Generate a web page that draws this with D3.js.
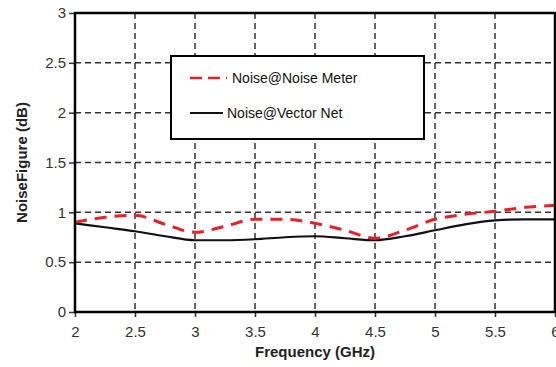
<!DOCTYPE html>
<html>
<head>
<meta charset="utf-8">
<script src="https://cdn.jsdelivr.net/npm/d3@7"></script>
<style>
  body { margin: 0; background: #fff; }
  text { font-family: "Liberation Sans", Arial, sans-serif; }
</style>
</head>
<body>
<div id="chart"></div>
<script>
var freqs = [2, 2.25, 2.5, 2.75, 3, 3.25, 3.5, 3.75, 4, 4.25, 4.5, 4.75, 5, 5.25, 5.5, 5.75, 6];
var noiseMeter = [0.90, 0.95, 0.97, 0.88, 0.80, 0.86, 0.93, 0.93, 0.89, 0.82, 0.74, 0.82, 0.93, 0.98, 1.01, 1.05, 1.07];
var vectorNet = [0.89, 0.85, 0.81, 0.76, 0.72, 0.72, 0.73, 0.75, 0.76, 0.74, 0.72, 0.76, 0.82, 0.88, 0.92, 0.93, 0.93];
var xTicks = [2, 2.5, 3, 3.5, 4, 4.5, 5, 5.5, 6];
var yTicks = [0, 0.5, 1, 1.5, 2, 2.5, 3];
var seriesNames = ["Noise@Noise Meter", "Noise@Vector Net"];

var totalWidth = 556, totalHeight = 367,
    margin = {top: 13, right: 1, bottom: 55, left: 75},
    width = totalWidth - margin.left - margin.right,
    height = totalHeight - margin.top - margin.bottom;

var x = d3.scaleLinear().domain([2, 6]).range([0, width]),
    y = d3.scaleLinear().domain([0, 3]).range([height, 0]);

var svg = d3.select("#chart").append("svg")
    .attr("width", totalWidth)
    .attr("height", totalHeight)
  .append("g")
    .attr("transform", "translate(" + margin.left + "," + margin.top + ")");

// grille pointillée
svg.append("g").selectAll("line")
  .data(xTicks.slice(1, -1))
  .join("line")
    .attr("x1", function(d) { return x(d); })
    .attr("x2", function(d) { return x(d); })
    .attr("y1", 0).attr("y2", height)
    .attr("stroke", "#333").attr("stroke-width", 1.5)
    .attr("stroke-dasharray", "6,4");
svg.append("g").selectAll("line")
  .data(yTicks.slice(1, -1))
  .join("line")
    .attr("x1", 0).attr("x2", width)
    .attr("y1", function(d) { return y(d); })
    .attr("y2", function(d) { return y(d); })
    .attr("stroke", "#333").attr("stroke-width", 1.5)
    .attr("stroke-dasharray", "6,4");

// courbes
var donnees = freqs.map(function(f, i) { return {f: f, a: noiseMeter[i], b: vectorNet[i]}; });
var ligneA = d3.line().curve(d3.curveMonotoneX)
    .x(function(d) { return x(d.f); })
    .y(function(d) { return y(d.a); });
var ligneB = d3.line().curve(d3.curveMonotoneX)
    .x(function(d) { return x(d.f); })
    .y(function(d) { return y(d.b); });
svg.append("path").datum(donnees)
    .attr("fill", "none").attr("stroke", "#111").attr("stroke-width", 2.2)
    .attr("d", ligneB);
svg.append("path").datum(donnees)
    .attr("fill", "none").attr("stroke", "#e8202a").attr("stroke-width", 3)
    .attr("stroke-dasharray", "12,8")
    .attr("d", ligneA);

// axes
var ax = svg.append("g")
    .attr("transform", "translate(0," + height + ")")
    .call(d3.axisBottom(x).tickValues(xTicks).tickSize(5).tickSizeOuter(0).tickFormat(d3.format("")));
var ay = svg.append("g")
    .call(d3.axisLeft(y).tickValues(yTicks).tickSize(6).tickSizeOuter(0).tickFormat(d3.format("")));
[ax, ay].forEach(function(a) {
  a.select(".domain").remove();
  a.selectAll("line").attr("stroke", "#333").attr("stroke-width", 1.5);
  a.selectAll("text").attr("fill", "#333").style("font-size", "15px")
    .style("font-family", "'Liberation Sans', Arial, sans-serif");
});
ax.selectAll("text").attr("dy", "0.71em").attr("y", 14);
ay.selectAll("text").attr("x", -9);

// cadre
svg.append("rect")
    .attr("x", 0).attr("y", 0).attr("width", width).attr("height", height)
    .attr("fill", "none").attr("stroke", "#000").attr("stroke-width", 2.5);

// titres
svg.append("text")
    .attr("x", width / 2).attr("y", height + 45)
    .style("text-anchor", "middle").style("font-weight", "bold").style("font-size", "15px")
    .attr("fill", "#222")
    .text("Frequency (GHz)");
svg.append("text")
    .attr("transform", "translate(-48," + (height / 2) + ") rotate(-90)")
    .style("text-anchor", "middle").style("font-weight", "bold").style("font-size", "15px")
    .attr("fill", "#222")
    .text("NoiseFigure (dB)");

// légende
var leg = svg.append("g").attr("transform", "translate(" + (171 - margin.left) + "," + (56 - margin.top) + ")");
leg.append("rect")
    .attr("width", 253).attr("height", 83)
    .attr("fill", "#fff").attr("stroke", "#000").attr("stroke-width", 2);
leg.append("line")
    .attr("x1", 19).attr("x2", 56).attr("y1", 22).attr("y2", 22)
    .attr("stroke", "#e8202a").attr("stroke-width", 2.5).attr("stroke-dasharray", "12,6");
leg.append("line")
    .attr("x1", 19).attr("x2", 52).attr("y1", 57).attr("y2", 57)
    .attr("stroke", "#111").attr("stroke-width", 2.2);
leg.selectAll(".legende")
  .data(seriesNames)
  .join("text")
    .attr("x", function(d, i) { return i == 0 ? 61 : 56; })
    .attr("y", function(d, i) { return i == 0 ? 22 : 57; })
    .attr("dy", "0.35em")
    .style("font-size", "14px")
    .attr("fill", "#111")
    .text(function(d) { return d; });
</script>
</body>
</html>
